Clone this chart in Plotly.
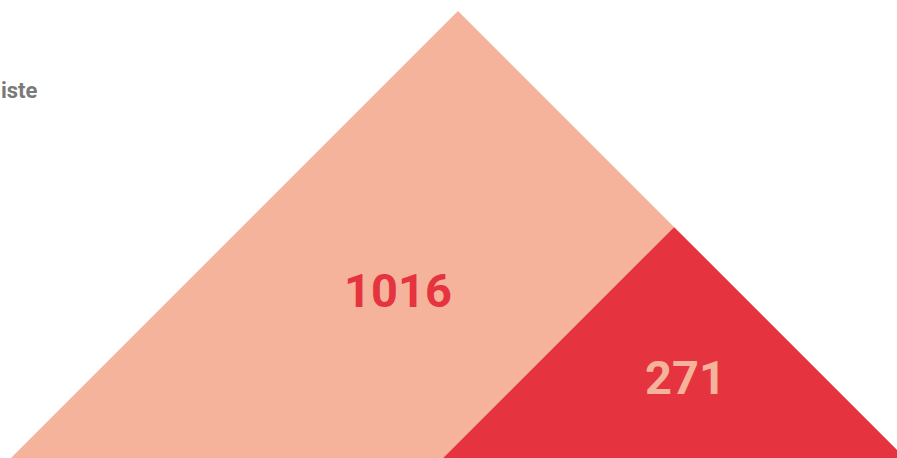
import plotly.graph_objects as go
import math

# Data
categories = ["Gesamt", "Teilmenge"]
values = [1016, 271]
label_colors = ["#E5333F", "#F5B39B"]
fill_colors = ["#F5B39B", "#E5333F"]
side_label = "iste"

# geometry constants (styling): triangle height ~ sqrt(value)
W, H = 897, 458
k = 447 / math.sqrt(1016)
right_corner = 905

fig = go.Figure()
for i, (cat, v) in enumerate(zip(categories, values)):
    h = k * math.sqrt(v)
    xs = [right_corner - 2 * h, right_corner - h, right_corner, right_corner - 2 * h]
    ys = [0, h, 0, 0]
    fig.add_trace(go.Scatter(x=xs, y=ys, fill="toself", mode="lines",
                             line=dict(width=0, color=fill_colors[i]),
                             fillcolor=fill_colors[i], hoverinfo="skip",
                             showlegend=False, name=cat))

# value labels
h0 = k * math.sqrt(values[0])
h1 = k * math.sqrt(values[1])
label_pos = [(right_corner - h0 - 60, h0 * 0.375), (right_corner - h1 + 11, h1 * 0.35)]
for i, v in enumerate(values):
    fig.add_annotation(x=label_pos[i][0], y=label_pos[i][1], text=f"<b>{v}</b>",
                       showarrow=False, xanchor="center", yanchor="middle",
                       font=dict(family="Roboto", size=47, color=label_colors[i]))

fig.add_annotation(xref="paper", yref="paper", x=0, y=1 - 91 / H, xshift=-1,
                   text=f"<b>{side_label}</b>", showarrow=False,
                   xanchor="left", yanchor="middle",
                   font=dict(family="Roboto", size=22, color="#7A7A7A"))

fig.update_layout(width=W, height=H, margin=dict(l=0, r=0, t=0, b=0),
                  paper_bgcolor="white", plot_bgcolor="white",
                  xaxis=dict(range=[0, W], visible=False, fixedrange=True),
                  yaxis=dict(range=[0, H], visible=False, fixedrange=True))
fig.write_html("out.html")
